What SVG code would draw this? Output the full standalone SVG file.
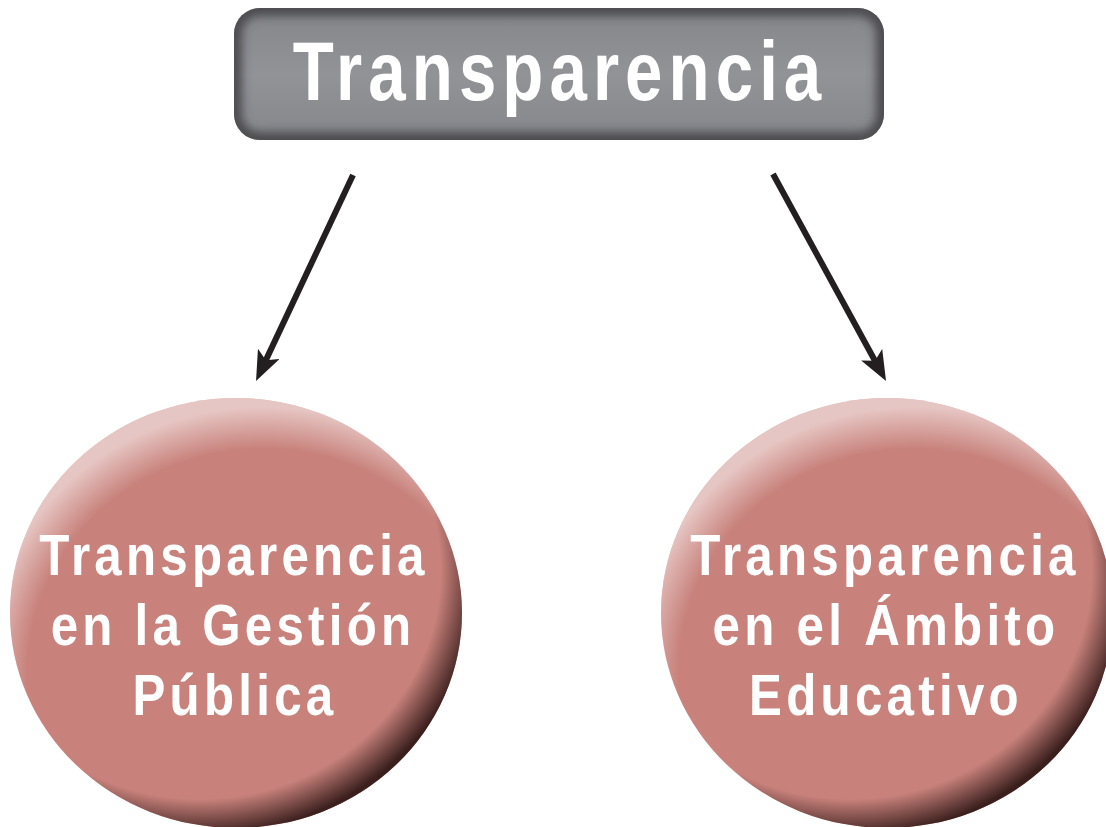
<svg xmlns="http://www.w3.org/2000/svg" width="1106" height="827" viewBox="0 0 1106 827">
  <style>
    .lbl { font-family: "Liberation Sans", Arial, sans-serif; font-weight: bold; fill: #ffffff; text-anchor: middle; }
    .top { font-size: 84px; letter-spacing: 7.6px; }
    .circ { font-size: 58px; letter-spacing: 5px; }
    .conn { stroke: #231f20; stroke-width: 6; fill: none; }
  </style>
  <defs>
    <marker id="head" markerUnits="userSpaceOnUse" markerWidth="30" markerHeight="24" viewBox="0 0 30 24" refX="8" refY="12" orient="auto">
      <path d="M0,0 L30,12 L0,24 L7,12 z" fill="#231f20"/>
    </marker>
    <linearGradient id="boxFill" x1="0" y1="0" x2="0" y2="1">
      <stop offset="0" stop-color="#858689"/>
      <stop offset="0.5" stop-color="#929397"/>
      <stop offset="1" stop-color="#86878a"/>
    </linearGradient>
    <clipPath id="boxClip">
      <rect x="234" y="8" width="650" height="132" rx="26"/>
    </clipPath>
    <filter id="blur" x="-10%" y="-20%" width="120%" height="140%">
      <feGaussianBlur stdDeviation="5"/>
    </filter>
    <radialGradient id="shade" cx="0.42" cy="0.40" r="0.62">
      <stop offset="0.86" stop-color="#3a1f1d" stop-opacity="0"/>
      <stop offset="1" stop-color="#3a1f1d" stop-opacity="1"/>
    </radialGradient>
    <radialGradient id="light" cx="0.56" cy="0.64" r="0.62">
      <stop offset="0.84" stop-color="#ffffff" stop-opacity="0"/>
      <stop offset="1" stop-color="#ffffff" stop-opacity="0.55"/>
    </radialGradient>
  </defs>

  <g id="node-top">
    <rect x="234" y="8" width="650" height="132" rx="26" fill="url(#boxFill)"/>
    <g clip-path="url(#boxClip)">
      <rect x="234" y="8" width="650" height="132" rx="26" fill="none" stroke="#4b4c4f" stroke-width="16" filter="url(#blur)"/>
    </g>
    <text class="lbl top" transform="translate(560,100) scale(0.8,1)">Transparencia</text>
  </g>

  <g id="connectors">
    <line class="conn" x1="353" y1="175" x2="265.4" y2="361.1" marker-end="url(#head)"/>
    <line class="conn" x1="773" y1="174" x2="875.5" y2="361.7" marker-end="url(#head)"/>
  </g>

  <g id="node-gestion">
    <ellipse cx="236" cy="613" rx="226" ry="215" fill="#c8817b"/>
    <ellipse cx="236" cy="613" rx="226" ry="215" fill="url(#light)"/>
    <ellipse cx="236" cy="613" rx="226" ry="215" fill="url(#shade)"/>
    <text class="lbl circ" transform="translate(234,575) scale(0.85,1)">Transparencia</text>
    <text class="lbl circ" transform="translate(233,645) scale(0.85,1)">en la Gestión</text>
    <text class="lbl circ" transform="translate(235,715) scale(0.85,1)">Pública</text>
  </g>

  <g id="node-educativo">
    <ellipse cx="887" cy="613" rx="226" ry="215" fill="#c8817b"/>
    <ellipse cx="887" cy="613" rx="226" ry="215" fill="url(#light)"/>
    <ellipse cx="887" cy="613" rx="226" ry="215" fill="url(#shade)"/>
    <text class="lbl circ" transform="translate(885,575) scale(0.85,1)">Transparencia</text>
    <text class="lbl circ" transform="translate(886,645) scale(0.85,1)">en el Ámbito</text>
    <text class="lbl circ" transform="translate(886,715) scale(0.85,1)">Educativo</text>
  </g>
</svg>
